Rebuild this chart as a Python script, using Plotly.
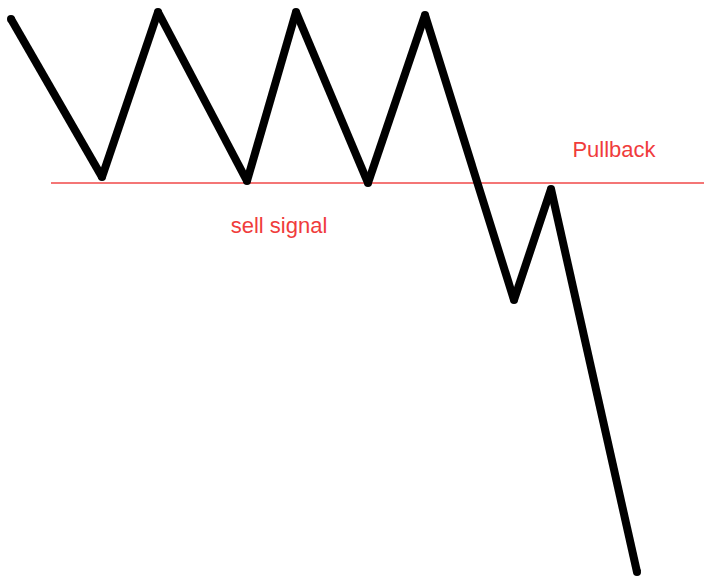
import plotly.graph_objects as go

# price path (x, y in chart units; y grows downward)
path_x = [11, 102, 158, 247, 296, 368, 425, 514, 551, 637]
path_y = [19, 177, 12, 181, 12, 183, 15, 300, 189, 572]

support_level = 183
support_x = [51, 704]

labels = ["sell signal", "Pullback"]
label_x = [279, 614]
label_y = [227, 151]

# split the path into separate segments (avoids mitered joins), round joints via markers
seg_x, seg_y = [], []
for i in range(len(path_x) - 1):
    seg_x += [path_x[i], path_x[i + 1], None]
    seg_y += [path_y[i], path_y[i + 1], None]

fig = go.Figure()
fig.add_trace(go.Scatter(x=support_x, y=[support_level, support_level], mode="lines",
                         line=dict(color="#f04848", width=1.5), hoverinfo="skip"))
fig.add_trace(go.Scatter(x=seg_x, y=seg_y, mode="lines",
                         line=dict(color="black", width=8), hoverinfo="skip",
                         connectgaps=False))
fig.add_trace(go.Scatter(x=path_x, y=path_y, mode="markers",
                         marker=dict(color="black", size=8, line=dict(width=0)),
                         hoverinfo="skip"))
fig.add_trace(go.Scatter(x=label_x, y=label_y, mode="text", text=labels,
                         textfont=dict(family="Liberation Sans, Arial", size=22, color="#f03c3c"),
                         textposition="middle center", hoverinfo="skip"))

fig.update_layout(
    width=704, height=578, margin=dict(l=0, r=0, t=0, b=0),
    paper_bgcolor="white", plot_bgcolor="white", showlegend=False,
    xaxis=dict(range=[0, 704], visible=False, fixedrange=True),
    yaxis=dict(range=[578, 0], visible=False, fixedrange=True),
)
fig.write_html("out.html", config={"displayModeBar": False},
               post_script="document.body.style.margin='0';document.body.style.overflow='hidden';")
